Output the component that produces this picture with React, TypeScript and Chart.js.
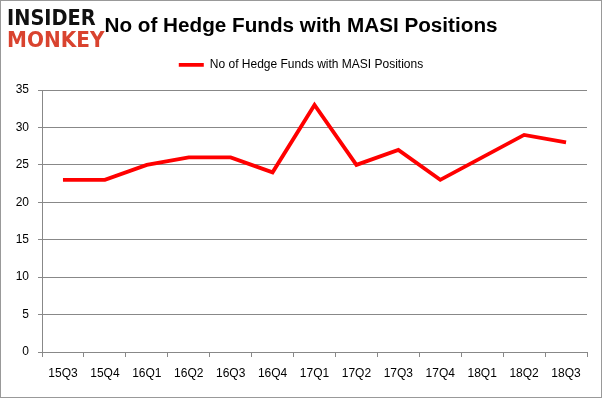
import React, { useEffect, useRef } from "react";
import { Chart, registerables } from "chart.js";

Chart.register(...registerables);

const categories = ["15Q3", "15Q4", "16Q1", "16Q2", "16Q3", "16Q4", "17Q1", "17Q2", "17Q3", "17Q4", "18Q1", "18Q2", "18Q3"];
const hedgeFunds = [23, 23, 25, 26, 26, 24, 33, 25, 27, 23, 26, 29, 28];
const seriesLabel = "No of Hedge Funds with MASI Positions";
const chartTitle = "No of Hedge Funds with MASI Positions";

export default function App() {
  const canvasRef = useRef<HTMLCanvasElement | null>(null);

  useEffect(() => {
    document.body.style.margin = "0";
    const ctx = canvasRef.current;
    if (!ctx) return;
    const chart = new Chart(ctx, {
      type: "line",
      data: {
        labels: categories,
        datasets: [
          {
            label: seriesLabel,
            data: hedgeFunds,
            borderColor: "#ff0000",
            backgroundColor: "#ff0000",
            borderWidth: 3.8,
            pointRadius: 0,
            tension: 0,
            fill: false,
            yAxisID: "y",
          },
        ],
      },
      options: {
        animation: false,
        responsive: false,
        maintainAspectRatio: false,
        layout: { padding: { top: 0, left: 0, right: 0, bottom: 0 } },
        plugins: {
          title: {
            display: true,
            text: chartTitle,
            color: "#000000",
            font: { family: "'Liberation Sans', Arial, sans-serif", size: 20.7, weight: "bold" },
            padding: { top: 13, bottom: 0 },
          },
          subtitle: {
            display: true,
            text: " ",
            position: "top",
            weight: 500,
            font: { size: 1 },
            padding: { top: 4, bottom: 4 },
          } as any,
          legend: {
            display: true,
            labels: {
              color: "#000000",
              font: { family: "'Liberation Sans', Arial, sans-serif", size: 12 },
              usePointStyle: true,
              pointStyle: "line",
              pointStyleWidth: 25,
              boxHeight: 12,
              padding: 20,
            },
          },
          tooltip: { enabled: false },
        },
        scales: {
          x: {
            offset: true,
            grid: {
              offset: true,
              drawOnChartArea: false,
              drawTicks: true,
              tickLength: 5,
              color: "#888888",
            },
            border: { color: "#888888" },
            ticks: {
              color: "#000000",
              font: { family: "'Liberation Sans', Arial, sans-serif", size: 12 },
              padding: 9,
              maxRotation: 0,
              autoSkip: false,
            },
            afterFit: (s: any) => {
              s.height = 45;
            },
          },
          y: {
            min: 0,
            max: 35,
            ticks: {
              stepSize: 5,
              color: "#000000",
              font: { family: "'Liberation Sans', Arial, sans-serif", size: 12 },
              padding: 9,
            },
            grid: { color: "#888888", tickLength: 4 },
            border: { color: "#888888" },
            afterFit: (s: any) => {
              s.width = 41;
            },
          },
          yRight: {
            position: "right",
            display: true,
            min: 0,
            max: 35,
            grid: { display: false, drawTicks: false },
            border: { display: false },
            ticks: { display: false },
            afterFit: (s: any) => {
              s.width = 14;
            },
          },
        },
      },
    });
    return () => chart.destroy();
  }, []);

  return (
    <div
      style={{
        position: "absolute",
        left: 0,
        top: 0,
        width: 602,
        height: 398,
        boxSizing: "border-box",
        border: "1px solid #999999",
        background: "#ffffff",
        overflow: "hidden",
      }}
    >
      <canvas ref={canvasRef} width={600} height={396} style={{ display: "block" }} />
      <div
        style={{
          position: "absolute",
          left: 6,
          top: 6,
          fontFamily: "'DejaVu Sans', sans-serif",
          fontWeight: 900,
          fontSize: 22,
          lineHeight: "22px",
          letterSpacing: 0,
          whiteSpace: "nowrap",
        }}
      >
        <div style={{ color: "#111111", transform: "scaleX(0.88)", transformOrigin: "left top" }}>INSIDER</div>
        <div style={{ color: "#d9432f", transform: "scaleX(0.91)", transformOrigin: "left top" }}>MONKEY</div>
      </div>
    </div>
  );
}
